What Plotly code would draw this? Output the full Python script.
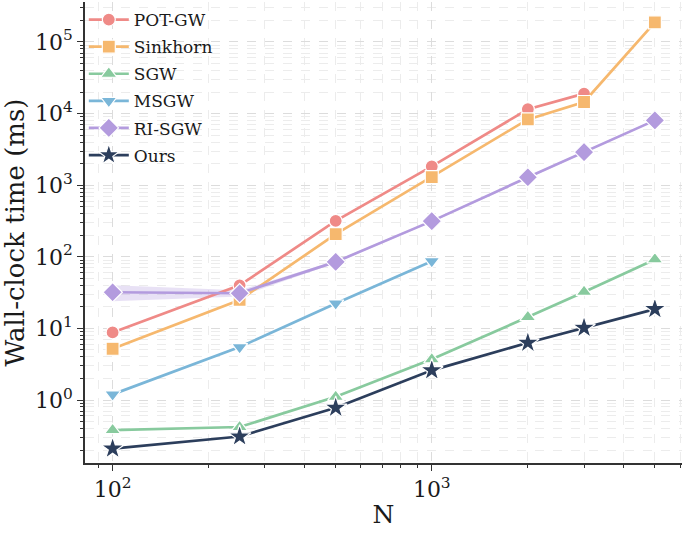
import plotly.graph_objects as go

N = [100, 250, 500, 1000, 2000, 3000, 5000]
pot_gw = [8.8, 40, 317, 1830, 11500, 19000]
sinkhorn = [5.2, 25, 207, 1300, 8300, 14500, 188000]
sgw = [0.38, 0.42, 1.11, 3.7, 14.4, 32.3, 92]
msgw = [1.2, 5.5, 22.3, 87]
ri_sgw = [32, 31, 85, 315, 1290, 2900, 8040]
ri_sgw_lo = [24, 28, 82, 305, 1250, 2820, 7850]
ri_sgw_hi = [40, 34, 88, 325, 1330, 2980, 8240]
ours = [0.21, 0.31, 0.78, 2.6, 6.3, 10.2, 18.6]

x_major = [100, 1000]
x_major_text = ["10<sup>2</sup>", "10<sup>3</sup>"]
y_major = [1, 10, 100, 1000, 10000, 100000]
y_major_text = ["10<sup>0</sup>", "10<sup>1</sup>", "10<sup>2</sup>",
                "10<sup>3</sup>", "10<sup>4</sup>", "10<sup>5</sup>"]

FONT = "DejaVu Serif"
TXT = "#1a1a1a"
series = [
    ("POT-GW", pot_gw, "#EF8A87", "circle", 13),
    ("Sinkhorn", sinkhorn, "#F6B86E", "square", 13),
    ("SGW", sgw, "#88CA9E", "triangle-up", 14),
    ("MSGW", msgw, "#7AB6D8", "triangle-down", 14),
    ("RI-SGW", ri_sgw, "#B39BDE", "diamond", 15),
    ("Ours", ours, "#2C3E5C", "star", 17),
]

fig = go.Figure()
fig.add_trace(go.Scatter(
    x=N + N[::-1], y=ri_sgw_hi + ri_sgw_lo[::-1], fill="toself",
    fillcolor="rgba(179,155,222,0.3)", line=dict(width=0),
    mode="lines", showlegend=False, hoverinfo="skip"))

for name, vals, col, sym, sz in series:
    fig.add_trace(go.Scatter(
        x=N[:len(vals)], y=vals, name=name, legendgroup=name, mode="lines+markers",
        line=dict(color=col, width=2.7),
        marker=dict(symbol=sym, size=sz, color=col,
                    line=dict(color="white", width=1.2))))

minor_x = [v * m for v in [10, 100, 1000] for m in range(2, 10)]
minor_y = [v * m for v in [0.1, 1, 10, 100, 1000, 10000, 100000] for m in range(2, 10)]

fig.update_layout(
    width=686, height=533,
    margin=dict(l=85, r=4, t=2, b=70),
    paper_bgcolor="white", plot_bgcolor="white",
    font=dict(family=FONT, color=TXT),
    legend=dict(x=-0.002, y=1.0, xanchor="left", yanchor="top",
                bgcolor="rgba(0,0,0,0)", font=dict(family=FONT, size=17, color=TXT),
                itemwidth=40, tracegroupgap=2),
    xaxis=dict(
        type="log", range=[1.9135, 3.784], automargin=False,
        tickvals=x_major, ticktext=x_major_text,
        tickfont=dict(family=FONT, size=22, color=TXT),
        ticks="outside", ticklen=6, tickwidth=1.2, tickcolor="#333",
        showline=True, linecolor="#333", linewidth=1.5,
        showgrid=True, gridcolor="#dcdcdc", griddash="dash", gridwidth=1,
        zeroline=False,
        minor=dict(tickvals=minor_x, ticks="outside", ticklen=3.5, tickcolor="#333",
                   tickwidth=1, showgrid=True, gridcolor="#ececec", griddash="dash"),
        title=dict(text="N", font=dict(family=FONT, size=25, color=TXT), standoff=4),
    ),
    yaxis=dict(
        type="log", range=[-0.879, 5.558], automargin=False,
        tickvals=y_major, ticktext=y_major_text,
        tickfont=dict(family=FONT, size=22, color=TXT),
        ticks="outside", ticklen=6, tickwidth=1.2, tickcolor="#333",
        showline=True, linecolor="#333", linewidth=1.5,
        showgrid=True, gridcolor="#dcdcdc", griddash="dash", gridwidth=1,
        zeroline=False,
        minor=dict(tickvals=minor_y, ticks="outside", ticklen=3.5, tickcolor="#333",
                   tickwidth=1, showgrid=True, gridcolor="#ececec", griddash="dash"),
        title=dict(text="Wall-clock time (ms)", font=dict(family=FONT, size=26, color=TXT), standoff=4),
    ),
)

fig.write_html("out.html", config={"displayModeBar": False},
               post_script="document.body.style.margin='0';document.body.style.padding='0';")
